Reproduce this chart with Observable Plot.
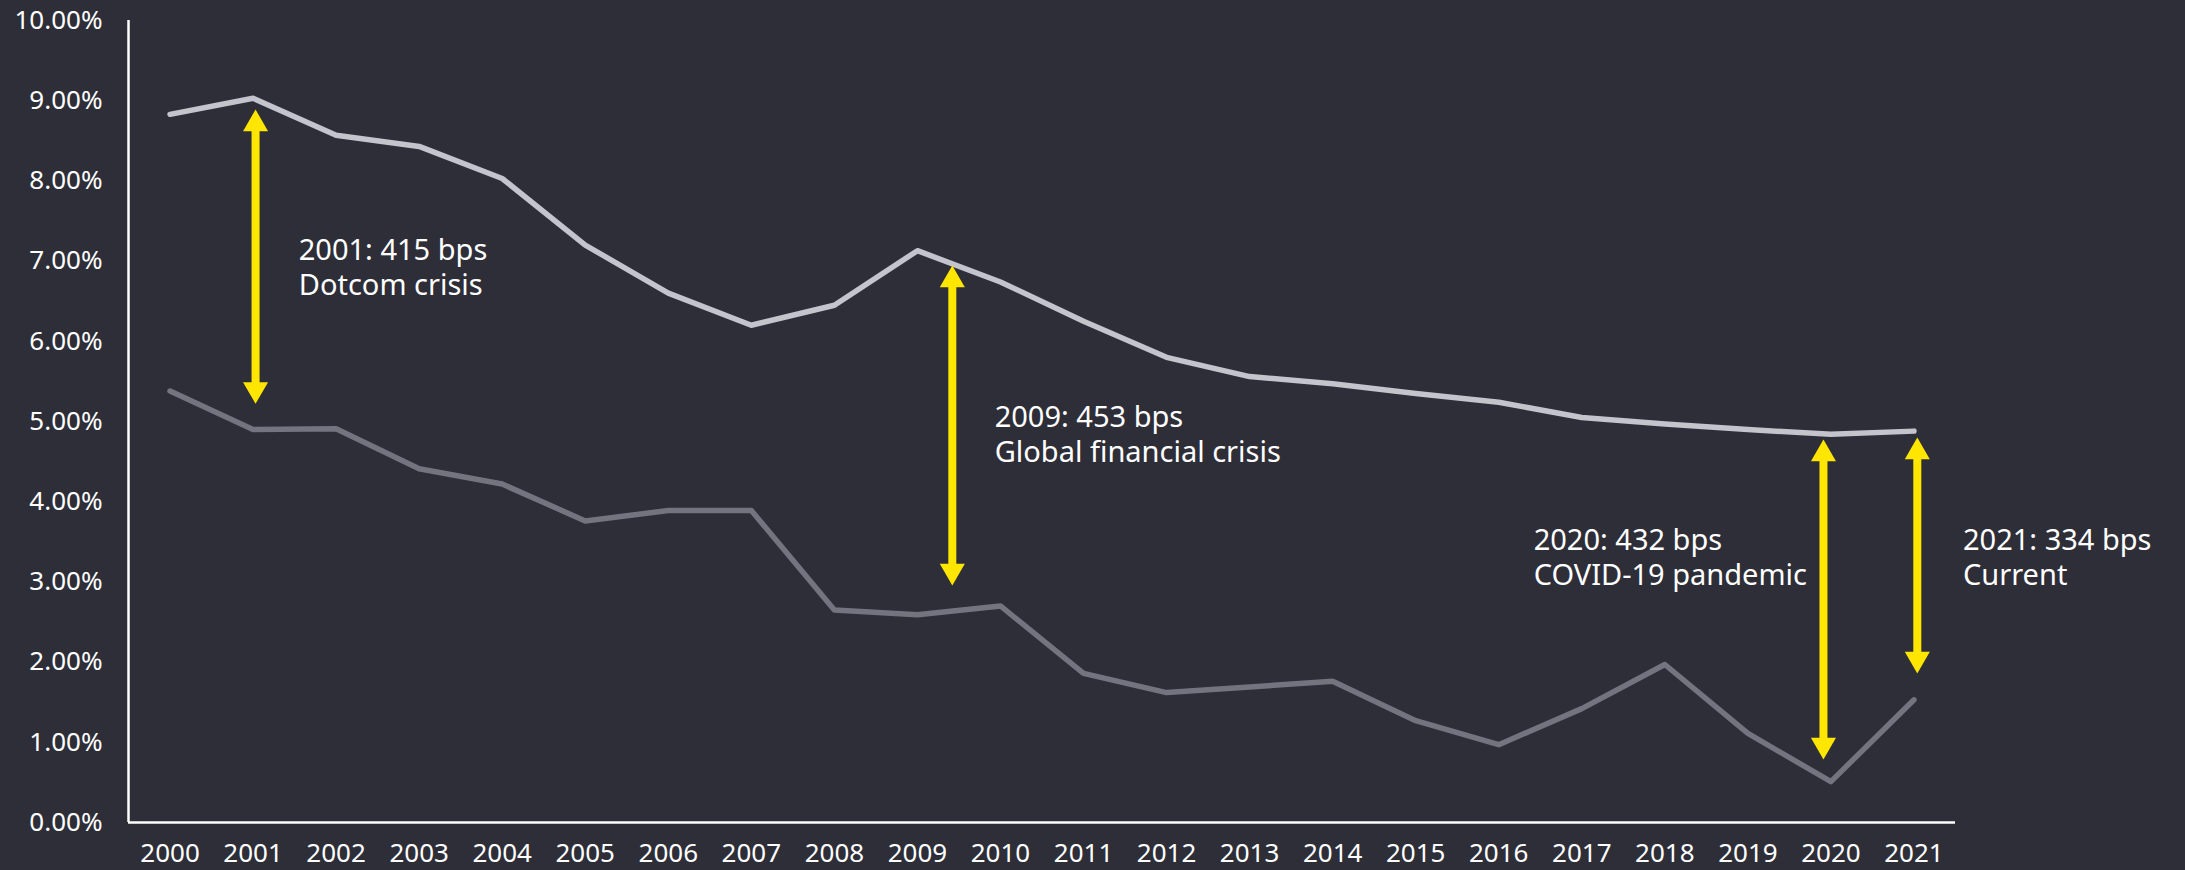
<!DOCTYPE html>
<html>
<head>
<meta charset="utf-8">
<script src="https://cdn.jsdelivr.net/npm/d3@7"></script>
<script src="https://cdn.jsdelivr.net/npm/@observablehq/plot@0.6"></script>
<style>
  html, body { margin: 0; padding: 0; background: #2e2e38; overflow: hidden; }
  #chart { width: 2185px; height: 870px; }
</style>
</head>
<body>
<div id="chart"></div>
<script>
// ---- data ----
const years = [2000, 2001, 2002, 2003, 2004, 2005, 2006, 2007, 2008, 2009, 2010,
               2011, 2012, 2013, 2014, 2015, 2016, 2017, 2018, 2019, 2020, 2021];
const upperSeries = [8.83, 9.03, 8.57, 8.43, 8.03, 7.20, 6.60, 6.20, 6.45, 7.13, 6.74,
                     6.25, 5.80, 5.56, 5.47, 5.35, 5.24, 5.05, 4.97, 4.90, 4.84, 4.88];
const lowerSeries = [5.38, 4.90, 4.91, 4.41, 4.22, 3.76, 3.89, 3.89, 2.65, 2.59, 2.70,
                     1.86, 1.62, 1.69, 1.76, 1.27, 0.97, 1.42, 1.97, 1.11, 0.51, 1.53];
const yTicks = [0, 1, 2, 3, 4, 5, 6, 7, 8, 9, 10];

// annotation arrows (spread markers)
const arrowX      = [2001.03, 2009.42, 2019.91, 2021.04];
const arrowTop    = [8.89, 6.945, 4.775, 4.80];
const arrowBottom = [5.22, 2.955, 0.786, 1.858];

// annotation labels
const labelX = [2001.55, 2009.93, 2016.42, 2021.59];
const labelY = [6.94, 4.857, 3.323, 3.323];
const labelText = [
  "2001: 415 bps\nDotcom crisis",
  "2009: 453 bps\nGlobal financial crisis",
  "2020: 432 bps\nCOVID-19 pandemic",
  "2021: 334 bps\nCurrent"
];

// ---- build tables ----
const upperData = years.map((y, i) => ({year: y, value: upperSeries[i]}));
const lowerData = years.map((y, i) => ({year: y, value: lowerSeries[i]}));
const arrows = arrowX.map((x, i) => ({x, top: arrowTop[i], bottom: arrowBottom[i]}));
const labels = labelX.map((x, i) => ({x, y: labelY[i], text: labelText[i]}));

const xDomain = [years[0] - 0.5, years[years.length - 1] + 0.5];
const yellow = "#ffe600";
const headR = 9.3;
const headTip = 2 * Math.sqrt(Math.PI * headR * headR / (3 * Math.sqrt(3)));

const chart = Plot.plot({
  width: 2185,
  height: 870,
  marginLeft: 128,
  marginRight: 230,
  marginTop: 20,
  marginBottom: 48,
  style: {background: "#2e2e38", color: "#ffffff", fontFamily: "'Noto Sans', sans-serif", fontSize: "26px"},
  x: {domain: xDomain, ticks: years, tickFormat: "d", tickSize: 0, tickPadding: 21, label: null},
  y: {domain: [yTicks[0], yTicks[yTicks.length - 1]], ticks: yTicks, tickFormat: d => d.toFixed(2) + "%", tickSize: 0, tickPadding: 26, label: null},
  marks: [
    Plot.ruleY([yTicks[0]], {stroke: "#ffffff", strokeWidth: 2.5}),
    Plot.ruleX([xDomain[0]], {y1: yTicks[yTicks.length - 1], y2: yTicks[0], stroke: "#ffffff", strokeWidth: 2.5}),
    Plot.line(upperData, {x: "year", y: "value", stroke: "#c4c4cd", strokeWidth: 5.5}),
    Plot.line(lowerData, {x: "year", y: "value", stroke: "#747480", strokeWidth: 5.5}),
    Plot.ruleX(arrows, {x: "x", y1: "top", y2: "bottom", stroke: yellow, strokeWidth: 8, insetTop: 18, insetBottom: 18}),
    Plot.dot(arrows, {x: "x", y: "top", symbol: "triangle", r: headR, fill: yellow, stroke: "none", dy: headTip}),
    Plot.dot(arrows, {x: "x", y: "bottom", symbol: "triangle", r: headR, fill: yellow, stroke: "none", rotate: 180, dy: -headTip}),
    Plot.text(labels, {x: "x", y: "y", text: "text", textAnchor: "start", lineAnchor: "middle", lineHeight: 1.21, fontSize: 29, fill: "#ffffff"})
  ]
});
document.getElementById("chart").appendChild(chart);
</script>
</body>
</html>
